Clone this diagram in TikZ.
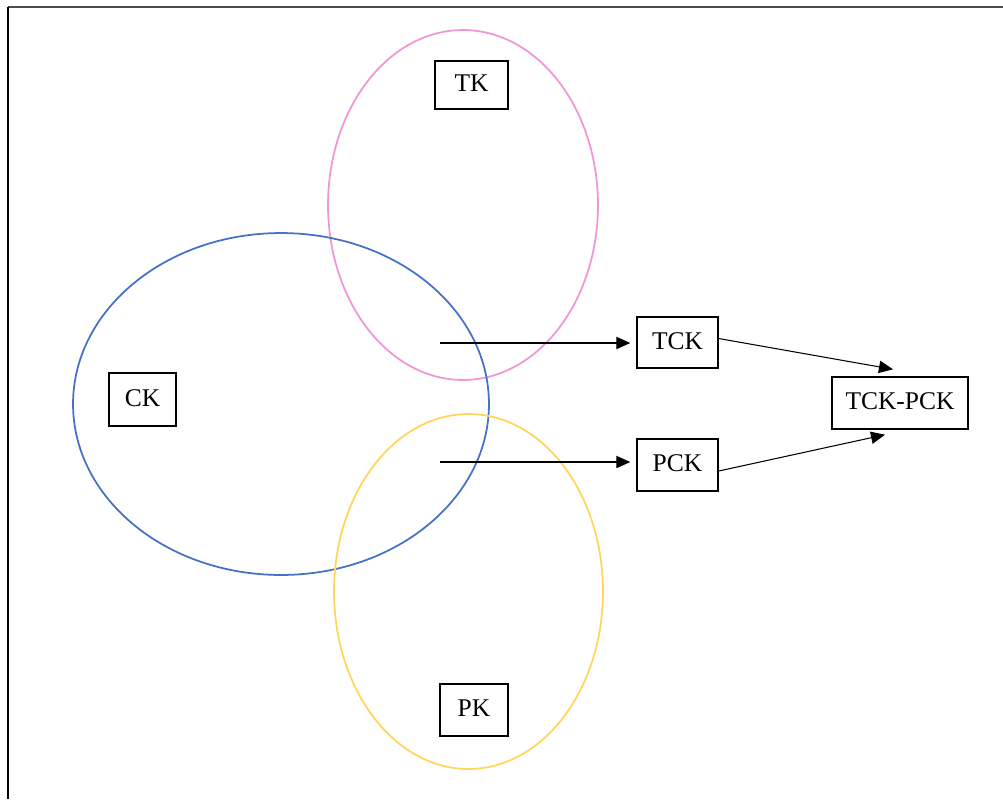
\documentclass[tikz,border=0pt]{standalone}
\usepackage{fontspec}
\setmainfont{Liberation Serif}
\usetikzlibrary{arrows.meta}
\definecolor{tkpink}{RGB}{240,150,215}
\definecolor{ckblue}{RGB}{68,114,196}
\definecolor{pkgold}{RGB}{255,214,90}
\begin{document}
\begin{tikzpicture}[x=0.02cm,y=-0.02cm,
  kbox/.style={draw,line width=0.8pt,inner sep=0pt,font=\fontsize{14.5}{16}\selectfont},
  link/.style={-{Triangle[length=8pt,width=7pt]},line width=0.6pt}]
  \useasboundingbox (0,0) rectangle (1003,799);
  % frame
  \draw[line width=1.4pt,black!70] (8,7) -- (1003,7);
  \draw[line width=1.4pt] (8,7) -- (8,799);
  % the three knowledge areas
  \draw[tkpink,line width=1pt] (463,205) ellipse [x radius=2.7cm,y radius=3.5cm];
  \draw[ckblue,line width=1pt] (281,404) ellipse [x radius=4.16cm,y radius=3.42cm];
  \draw[pkgold,line width=1pt] (468.5,591.5) ellipse [x radius=2.69cm,y radius=3.55cm];
  % boxes
  \node[kbox,minimum width=1.46cm,minimum height=0.96cm] (tk) at (471.5,85) {\raisebox{2pt}{TK}};
  \node[kbox,minimum width=1.34cm,minimum height=1.06cm] (ck) at (142.5,399.5) {\raisebox{2pt}{CK}};
  \node[kbox,minimum width=1.36cm,minimum height=1.04cm] (pk) at (474,710) {\raisebox{2pt}{PK}};
  \node[kbox,minimum width=1.62cm,minimum height=1.02cm] (tck) at (677.5,342.5) {\raisebox{2pt}{TCK}};
  \node[kbox,minimum width=1.62cm,minimum height=1.04cm] (pck) at (677.5,465) {\raisebox{2pt}{PCK}};
  \node[kbox,minimum width=2.72cm,minimum height=1.04cm] (tckpck) at (900,403) {\raisebox{2pt}{TCK-PCK}};
  % arrows
  \coordinate (tcin) at (440,343);
  \coordinate (pcin) at (440,462);
  \draw[link] (tcin) -- ([xshift=-0.12cm]tcin -| tck.west);
  \draw[link] (pcin) -- ([xshift=-0.12cm]pcin -| pck.west);
  \draw[link] ([yshift=0.08cm]tck.east) -- ([xshift=-0.14cm,yshift=0.14cm]tckpck.north);
  \draw[link] ([yshift=-0.12cm]pck.east) -- ([xshift=-0.3cm,yshift=-0.1cm]tckpck.south);
\end{tikzpicture}
\end{document}
